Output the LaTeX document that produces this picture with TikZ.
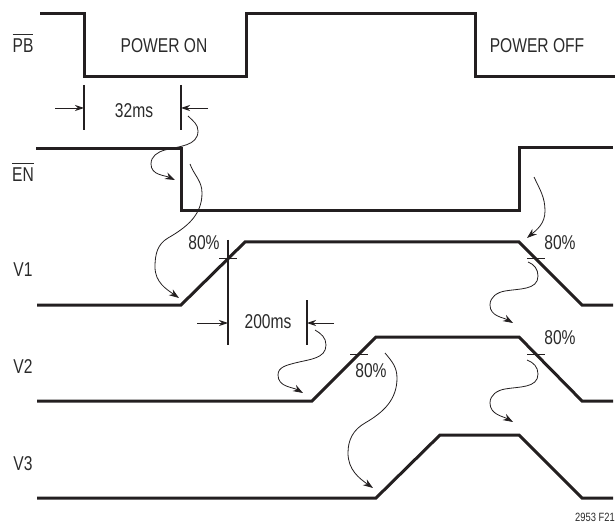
\documentclass[tikz,border=0pt]{standalone}
\usepackage{fontspec}
\setmainfont{Liberation Sans}[FakeStretch=0.78]
\usetikzlibrary{arrows.meta}
\definecolor{ink}{HTML}{231F20}
\definecolor{txt}{HTML}{2A2A2A}
\newcommand\ovl[1]{\ensuremath{\overline{\mbox{\rule{0pt}{17pt}#1}}}}
\begin{document}
\begin{tikzpicture}[x=1pt,y=1pt,
  sig/.style={draw=ink,line width=3pt,line join=miter},
  dimline/.style={draw=ink,line width=1.2pt},
  dimarrow/.style={draw=ink,line width=0.9pt,-{Stealth[length=9pt,width=6pt]}},
  curv/.style={draw=ink,line width=0.8pt,-{Stealth[length=10pt,width=7pt]}},
  tick/.style={draw=ink,line width=0.9pt},
  lbl/.style={text=txt,font=\fontsize{20}{22}\selectfont,inner sep=0pt},
  small/.style={text=txt,font=\fontsize{12}{13}\selectfont,inner sep=0pt}]
\useasboundingbox (0,0) rectangle (616,523);
% signals
\draw[sig] (40,509) -- (84,509) -- (84,446) -- (246,446) -- (246,509) -- (475,509) -- (475,446) -- (615,446);
\draw[sig] (36,374) -- (181,374) -- (181,312) -- (519,312) -- (519,375) -- (613,375);
\draw[sig] (37,218) -- (181,218) -- (245,281) -- (519,281) -- (582,218) -- (613,218);
\draw[sig] (37,122) -- (312,122) -- (376,186) -- (519,186) -- (582,122) -- (613,122);
\draw[sig] (37,25) -- (376,25) -- (440,88) -- (519,88) -- (582,25) -- (613,25);
% labels
\node[lbl,anchor=base] (pb) at (23,470) {\ovl{PB}};
\node[lbl,anchor=base] (en) at (23,341) {\ovl{EN}};
\node[lbl] (v1) at (23,253) {V1};
\node[lbl] (v2) at (23,156) {V2};
\node[lbl] (v3) at (23,59) {V3};
\node[lbl] (pon) at (164,477) {POWER ON};
\node[lbl] (poff) at (537,477) {POWER OFF};
% 32ms dimension
\coordinate (d1a) at (84,438); \coordinate (d1b) at (84,393);
\coordinate (d2a) at (181,438); \coordinate (d2b) at (181,393);
\draw[dimline] (d1a) -- (d1b);
\draw[dimline] (d2a) -- (d2b);
\coordinate (a1s) at (55,415); \coordinate (a1e) at (84,415);
\coordinate (a2s) at (208,415); \coordinate (a2e) at (181,415);
\draw[dimarrow] (a1s) -- (a1e);
\draw[dimarrow] (a2s) -- (a2e);
\node[lbl] (t32) at (134,412) {32ms};
% 200ms dimension
\coordinate (d3a) at (228,283); \coordinate (d3b) at (228,178);
\coordinate (d4a) at (307,223); \coordinate (d4b) at (307,178);
\draw[dimline] (d3a) -- (d3b);
\draw[dimline] (d4a) -- (d4b);
\coordinate (a3s) at (197,200); \coordinate (a3e) at (228,200);
\coordinate (a4s) at (334,200); \coordinate (a4e) at (307,200);
\draw[dimarrow] (a3s) -- (a3e);
\draw[dimarrow] (a4s) -- (a4e);
\node[lbl] (t200) at (268,201) {200ms};
% 80% ticks
\draw[tick] (219,265) -- (237,265);
\draw[tick] (527,265) -- (545,265);
\draw[tick] (350,169) -- (368,169);
\draw[tick] (527,169) -- (545,169);
\node[lbl] (p1) at (204,280) {80\%};
\node[lbl] (p2) at (560,280) {80\%};
\node[lbl] (p3) at (560,185) {80\%};
\node[lbl] (p4) at (371,152) {80\%};
\node[small] (ref) at (595,6) {2953 F21};
% curved arrows
\coordinate (c1s) at (188,407); \coordinate (c1e) at (175,343);
\draw[curv] (c1s) to[out=-45,in=90] (198,392) to[out=-90,in=15] (165,373) to[out=195,in=90] (151,359) to[out=-90,in=155] (c1e);
\coordinate (c2s) at (190,359); \coordinate (c2e) at (179,225);
\draw[curv] (c2s) to[out=-70,in=90] (202,330) to[out=-90,in=30] (168,285) to[out=210,in=90] (155,256) to[out=-90,in=145] (c2e);
\coordinate (c3s) at (315,193); \coordinate (c3e) at (303,130);
\draw[curv] (c3s) to[out=-30,in=90] (326,178) to[out=-90,in=15] (295,160) to[out=195,in=90] (278,148) to[out=-90,in=150] (c3e);
\coordinate (c4s) at (385,170); \coordinate (c4e) at (373,35);
\draw[curv] (c4s) to[out=-50,in=90] (397,145) to[out=-90,in=30] (365,100) to[out=210,in=90] (348,70) to[out=-90,in=145] (c4e);
\coordinate (c5s) at (534,346); \coordinate (c5e) at (527,285);
\draw[curv] (c5s) to[out=-65,in=90] (545,312) to[out=-90,in=40] (c5e);
\coordinate (c6s) at (528,261); \coordinate (c6e) at (513,200);
\draw[curv] (c6s) to[out=-20,in=90] (538,247) to[out=-90,in=10] (505,232) to[out=190,in=90] (490,218) to[out=-90,in=150] (c6e);
\coordinate (c7s) at (527,163); \coordinate (c7e) at (513,101);
\draw[curv] (c7s) to[out=-20,in=90] (538,149) to[out=-90,in=10] (505,134) to[out=190,in=90] (490,120) to[out=-90,in=150] (c7e);
\end{tikzpicture}
\end{document}
